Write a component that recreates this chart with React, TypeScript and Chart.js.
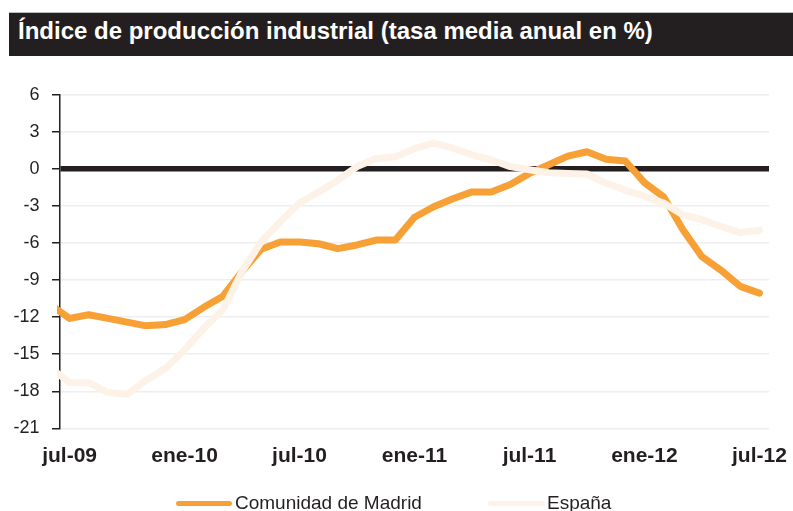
import React, { useEffect, useRef } from "react";
import { Chart, registerables } from "chart.js";

Chart.register(...registerables);

const TITLE = "Índice de producción industrial (tasa media anual en %)";

const MONTHS = [
  "jun-09", "jul-09", "ago-09", "sep-09", "oct-09", "nov-09", "dic-09",
  "ene-10", "feb-10", "mar-10", "abr-10", "may-10", "jun-10", "jul-10", "ago-10", "sep-10", "oct-10", "nov-10", "dic-10",
  "ene-11", "feb-11", "mar-11", "abr-11", "may-11", "jun-11", "jul-11", "ago-11", "sep-11", "oct-11", "nov-11", "dic-11",
  "ene-12", "feb-12", "mar-12", "abr-12", "may-12", "jun-12", "jul-12",
];

const X_TICK_LABELS = ["jul-09", "ene-10", "jul-10", "ene-11", "jul-11", "ene-12", "jul-12"];

const SERIES_NAMES = ["Comunidad de Madrid", "España"];

const MADRID = [
  -11.0, -12.1, -11.8, -12.1, -12.4, -12.7, -12.6,
  -12.2, -11.2, -10.3, -8.3, -6.5, -5.9, -5.9, -6.05, -6.45, -6.15, -5.75, -5.75,
  -3.9, -3.05, -2.4, -1.85, -1.85, -1.25, -0.35, 0.35, 1.05, 1.4, 0.8, 0.65,
  -1.1, -2.25, -4.9, -7.1, -8.2, -9.5, -10.05,
];

const ESPANA = [
  -16.1, -17.3, -17.3, -18.1, -18.25, -17.1, -16.15,
  -14.65, -12.9, -11.4, -8.3, -5.9, -4.25, -2.75, -1.85, -0.9, 0.2, 0.85, 1.0,
  1.65, 2.1, 1.7, 1.15, 0.75, 0.2, -0.05, -0.3, -0.35, -0.4, -1.15, -1.7,
  -2.2, -2.75, -3.7, -4.1, -4.65, -5.15, -4.95,
];

const Y_MIN = -21;
const Y_MAX = 6;
const Y_STEP = 3;

const COLORS = ["#f7a035", "#fdf2e8"];
const DARK = "#231f20";
const FONT = '"Liberation Sans", Arial, Helvetica, sans-serif';

// month offset relative to the first labelled month (jul-09)
const BASE = MONTHS.indexOf(X_TICK_LABELS[0]);
const toPoints = (vals: number[]) => vals.map((y, i) => ({ x: i - BASE, y }));

export default function App() {
  const ref = useRef<HTMLCanvasElement>(null);

  useEffect(() => {
    document.body.style.margin = "0";
    const canvas = ref.current;
    if (!canvas) return;
    const lastIdx = MONTHS.indexOf(X_TICK_LABELS[X_TICK_LABELS.length - 1]) - BASE;
    const lineStyle = {
      borderWidth: 7,
      pointRadius: 0,
      tension: 0,
      borderCapStyle: "round",
      borderJoinStyle: "round",
      clip: { left: 3, right: 20, top: 20, bottom: 20 },
    };
    const chart = new Chart(canvas, {
      type: "line",
      data: {
        datasets: [
          {
            ...lineStyle,
            label: SERIES_NAMES[0],
            data: toPoints(MADRID),
            borderColor: COLORS[0],
            backgroundColor: COLORS[0],
            order: 1,
          },
          {
            ...lineStyle,
            label: SERIES_NAMES[1],
            data: toPoints(ESPANA),
            borderColor: COLORS[1],
            backgroundColor: COLORS[1],
            order: 0,
          },
        ],
      },
      options: {
        animation: false,
        responsive: false,
        devicePixelRatio: 1,
        events: [],
        layout: { padding: { top: 95, left: 0, right: 24, bottom: 42.7 } },
        plugins: {
          legend: { display: false },
          tooltip: { enabled: false },
          title: { display: false },
        },
        scales: {
          x: {
            type: "linear",
            min: -0.5,
            max: lastIdx + 0.5,
            grid: { display: false, drawTicks: false },
            border: { display: false },
            afterBuildTicks: (scale: any) => {
              scale.ticks = X_TICK_LABELS.map((l) => ({ value: MONTHS.indexOf(l) - BASE }));
            },
            afterFit: (scale: any) => {
              scale.height = 40;
              scale.paddingLeft = 0;
              scale.paddingRight = 0;
            },
            ticks: {
              autoSkip: false,
              maxRotation: 0,
              padding: 15,
              color: DARK,
              font: { family: FONT, size: 21, weight: "bold" },
              callback: (value: any) => MONTHS[Number(value) + BASE] ?? "",
            },
          },
          y: {
            min: Y_MIN,
            max: Y_MAX,
            afterFit: (scale: any) => {
              scale.width = 60;
              scale.paddingTop = 0;
              scale.paddingBottom = 0;
            },
            ticks: {
              stepSize: Y_STEP,
              padding: 12.5,
              color: DARK,
              font: { family: FONT, size: 18 },
            },
            grid: {
              color: (ctx: any) => (ctx.tick && ctx.tick.value === 0 ? DARK : "#eeeeee"),
              lineWidth: (ctx: any) => (ctx.tick && ctx.tick.value === 0 ? 5.5 : 1.5),
              tickColor: DARK,
              tickWidth: 1.5,
              tickLength: 8,
              drawTicks: true,
            },
            border: { display: true, color: DARK, width: 1.5 },
          },
        },
      },
    } as any);
    return () => chart.destroy();
  }, []);

  const legendText: React.CSSProperties = {
    position: "absolute",
    top: 493,
    fontSize: 19,
    lineHeight: "19px",
    color: DARK,
    whiteSpace: "nowrap",
  };
  const legendLine: React.CSSProperties = {
    position: "absolute",
    top: 500.5,
    height: 5.5,
    width: 56,
    borderRadius: 3,
  };

  return (
    <div
      style={{
        position: "relative",
        width: 793,
        height: 511,
        background: "#ffffff",
        overflow: "hidden",
        fontFamily: FONT,
      }}
    >
      <div
        style={{
          position: "absolute",
          left: 9,
          top: 12,
          width: 784,
          height: 44,
          background: DARK,
          borderTop: "1px solid #bdbdbd",
          boxSizing: "border-box",
        }}
      />
      <div
        style={{
          position: "absolute",
          left: 18,
          top: 19,
          color: "#ffffff",
          fontSize: 24,
          fontWeight: 700,
          lineHeight: "24px",
          whiteSpace: "nowrap",
        }}
      >
        {TITLE}
      </div>
      <canvas ref={ref} width={793} height={511} style={{ position: "absolute", left: 0, top: 0 }} />
      <div style={{ ...legendLine, left: 176, background: COLORS[0] }} />
      <div style={{ ...legendText, left: 235 }}>{SERIES_NAMES[0]}</div>
      <div style={{ ...legendLine, left: 488, width: 57, background: COLORS[1] }} />
      <div style={{ ...legendText, left: 547 }}>{SERIES_NAMES[1]}</div>
    </div>
  );
}
